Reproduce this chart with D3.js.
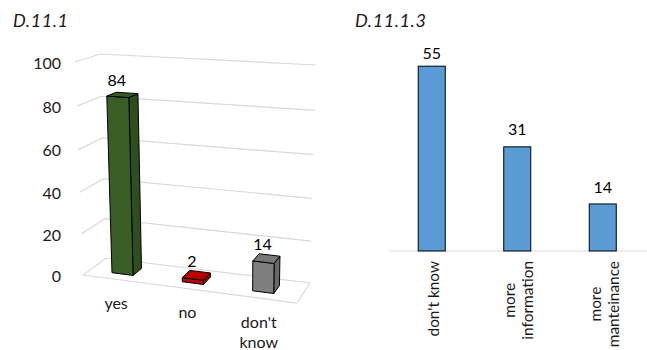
<!DOCTYPE html>
<html>
<head>
<meta charset="utf-8">
<script src="https://cdn.jsdelivr.net/npm/d3@7/dist/d3.min.js"></script>
<style>
  html, body { margin: 0; padding: 0; background: #fff; }
  svg { display: block; font-family: Lato, "Open Sans", sans-serif; }
</style>
</head>
<body>
<svg id="chart" width="647" height="350"></svg>
<script>
// D.11.1 — 3D column chart
const leftTitle = "D.11.1";
const leftCategories = ["yes", "no", "don't know"];
const leftValues = [84, 2, 14];
const leftTicks = [0, 20, 40, 60, 80, 100];
const leftColors = ["#3b5e27", "#c00000", "#7f7f7f"];

// D.11.1.3 — flat column chart
const rightTitle = "D.11.1.3";
const rightCategories = ["don't know", "more information", "more manteinance"];
const rightValues = [55, 31, 14];

const svg = d3.select("#chart");
const textColor = "#1a1a1a";
const gridColor = "#d9d9d9";
const fontSize = 16;
const rotatedSize = 15.4;

// ---------- helpers ----------
function wrapWords(label, maxWidth, size) {
  const probe = svg.append("text").style("font-size", size + "px");
  const words = label.split(" ");
  const lines = [];
  let cur = "";
  words.forEach(w => {
    const test = cur ? cur + " " + w : w;
    probe.text(test);
    if (cur && probe.node().getComputedTextLength() > maxWidth) {
      lines.push(cur);
      cur = w;
    } else {
      cur = test;
    }
  });
  if (cur) lines.push(cur);
  probe.remove();
  return lines;
}
function textWidth(str, size) {
  const probe = svg.append("text").style("font-size", size + "px").text(str);
  const w = probe.node().getComputedTextLength();
  probe.remove();
  return w;
}

// ---------- left: 3D perspective box ----------
// screen corners of the floor (value 0) and of the ceiling (axis max)
const floorCorners = { fl: [83, 275], bl: [106, 258], br: [310, 283], fr: [297, 303] };
const ceilCorners  = { fl: [75, 62],  bl: [100, 54],  br: [316, 65],  fr: [300, 74] };
const persp = 0.0465; // vertical foreshortening

function bilinear(c, u, v) {
  const fx = c.fl[0] + (c.fr[0] - c.fl[0]) * u, fy = c.fl[1] + (c.fr[1] - c.fl[1]) * u;
  const bx = c.bl[0] + (c.br[0] - c.bl[0]) * u, by = c.bl[1] + (c.br[1] - c.bl[1]) * u;
  return [fx + (bx - fx) * v, fy + (by - fy) * v];
}
function project(u, v, h) {
  const hp = h * (1 - persp) / (1 - persp * h);
  const a = bilinear(floorCorners, u, v);
  const b = bilinear(ceilCorners, u, v);
  return [a[0] + (b[0] - a[0]) * hp, a[1] + (b[1] - a[1]) * hp];
}

const uScale = d3.scaleBand().domain(leftCategories)
  .range([-0.012, 0.988]).paddingInner(0.7).paddingOuter(0.35);
const hScale = d3.scaleLinear().domain([0, 100]).range([0, 1]);
const depth = [0.3, 0.7];
const line = d3.line();

const left = svg.append("g");

// floor
left.append("path")
  .attr("d", line([project(0, 0, 0), project(1, 0, 0), project(1, 1, 0), project(0, 1, 0)]) + "Z")
  .attr("fill", "none").attr("stroke", gridColor).attr("stroke-width", 1.2);

// gridlines on left and back walls
left.selectAll(".grid").data(leftTicks.filter(t => t > 0)).join("path")
  .attr("d", t => line([project(0, 0, hScale(t)), project(0, 1, hScale(t)), project(1, 1, hScale(t))]))
  .attr("fill", "none").attr("stroke", gridColor).attr("stroke-width", 1.2);

// tick labels
left.selectAll(".tick").data(leftTicks).join("text")
  .attr("x", 61)
  .attr("y", t => project(0, 0, hScale(t))[1] + 1)
  .attr("dy", "0.35em")
  .attr("text-anchor", "end")
  .style("font-size", fontSize + "px").attr("fill", textColor)
  .text(t => t);

function shade(color, k) { return d3.color(color).darker(k).formatHex(); }

// bars
leftCategories.forEach((c, i) => {
  const u0 = uScale(c), u1 = u0 + uScale.bandwidth();
  const h = hScale(leftValues[i]);
  const [v0, v1] = depth;
  const g = left.append("g").attr("stroke", "#000").attr("stroke-width", 1).attr("stroke-linejoin", "round");
  g.append("path").attr("fill", shade(leftColors[i], 0.55))
    .attr("d", line([project(u1, v0, 0), project(u1, v1, 0), project(u1, v1, h), project(u1, v0, h)]) + "Z");
  g.append("path").attr("fill", leftColors[i])
    .attr("d", line([project(u0, v0, 0), project(u1, v0, 0), project(u1, v0, h), project(u0, v0, h)]) + "Z");
  g.append("path").attr("fill", shade(leftColors[i], 0.15))
    .attr("d", line([project(u0, v0, h), project(u1, v0, h), project(u1, v1, h), project(u0, v1, h)]) + "Z");

  const uc = u0 + uScale.bandwidth() / 2;
  left.append("text")
    .attr("x", project(uc, v0, h)[0] - 1)
    .attr("y", project(uc, 0.5, h)[1] - 14)
    .attr("dy", "0.35em")
    .attr("text-anchor", "middle")
    .style("font-size", fontSize + "px").attr("fill", "#000")
    .text(leftValues[i]);

  // category label below the front edge of the floor
  const base = project(uc, 0, 0);
  const lines = wrapWords(c, 55, fontSize);
  const t = left.append("text").attr("text-anchor", "middle")
    .style("font-size", fontSize + "px").attr("fill", textColor);
  lines.forEach((ln, j) => {
    t.append("tspan").attr("x", base[0]).attr("y", base[1] + 24 + j * 20).attr("dy", "0.35em").text(ln);
  });
});

left.append("text")
  .attr("x", 13).attr("y", 27)
  .style("font-size", "18px").style("font-style", "italic").style("letter-spacing", "0.6px")
  .attr("fill", textColor)
  .text(leftTitle);

// ---------- right: flat columns ----------
const right = svg.append("g");
const baseY = 251;
const xRight = d3.scaleBand().domain(rightCategories)
  .range([389, 645.5]).paddingInner(0.684).paddingOuter(0.342);
const yRight = d3.scaleLinear().domain([0, 60]).range([baseY, baseY - 201.6]);

right.append("line")
  .attr("x1", xRight.range()[0]).attr("x2", 647)
  .attr("y1", baseY).attr("y2", baseY)
  .attr("stroke", gridColor).attr("stroke-width", 1.2);

right.selectAll("rect").data(rightValues).join("rect")
  .attr("x", (d, i) => xRight(rightCategories[i]))
  .attr("y", d => yRight(d))
  .attr("width", xRight.bandwidth())
  .attr("height", d => yRight(0) - yRight(d))
  .attr("fill", "#5b9bd5").attr("stroke", "#000").attr("stroke-width", 1);

right.selectAll(".val").data(rightValues).join("text")
  .attr("x", (d, i) => xRight(rightCategories[i]) + xRight.bandwidth() / 2)
  .attr("y", d => Math.max(yRight(d) - 17, 53))
  .attr("dy", "0.35em")
  .attr("text-anchor", "middle")
  .style("font-size", fontSize + "px").attr("fill", "#000")
  .text(d => d);

// rotated category labels
rightCategories.forEach(c => {
  const lines = wrapWords(c, 85, rotatedSize);
  const maxLen = d3.max(lines, l => textWidth(l, rotatedSize));
  const cx = xRight(c) + xRight.bandwidth() / 2 + 1.5;
  const mid = baseY + 10 + maxLen / 2;
  const t = right.append("text")
    .attr("transform", `translate(${cx},${mid}) rotate(-90)`)
    .attr("text-anchor", "middle")
    .style("font-size", rotatedSize + "px").attr("fill", textColor);
  lines.forEach((ln, j) => {
    t.append("tspan").attr("x", 0).attr("y", (j - (lines.length - 1) / 2) * 18).attr("dy", "0.35em").text(ln);
  });
});

right.append("text")
  .attr("x", 355).attr("y", 27)
  .style("font-size", "18px").style("font-style", "italic").style("letter-spacing", "0.6px")
  .attr("fill", textColor)
  .text(rightTitle);
</script>
</body>
</html>
